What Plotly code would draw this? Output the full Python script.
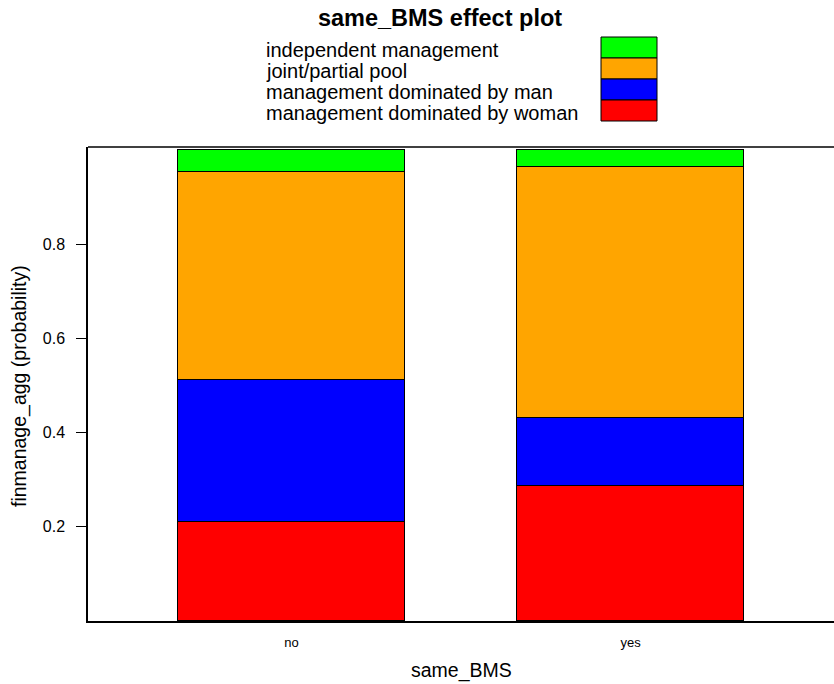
import plotly.graph_objects as go

# Effect-plot probabilities for finmanage_agg by same_BMS
categories = ["no", "yes"]
levels = [
    "management dominated by woman",
    "management dominated by man",
    "joint/partial pool",
    "independent management",
]
colors = ["#FF0000", "#0000FF", "#FFA500", "#00FF00"]
probs = {
    "management dominated by woman": [0.211, 0.287],
    "management dominated by man": [0.300, 0.144],
    "joint/partial pool": [0.442, 0.533],
    "independent management": [0.047, 0.036],
}
y_ticks = [0.2, 0.4, 0.6, 0.8]

fig = go.Figure()
for lvl, col in zip(levels, colors):
    fig.add_trace(go.Bar(
        x=categories, y=probs[lvl], name=lvl,
        marker=dict(color=col, line=dict(color="black", width=1)),
        width=0.67, showlegend=False,
    ))

font = "Liberation Sans, Arial, sans-serif"
W, H = 834, 684
L, T, B = 88, 147, 63
plot_w = W - L
plot_h = H - T - B


def px(x):
    return (x - L) / plot_w


def py(y):
    return (H - B - y) / plot_h


# Key: labels on the left, colour boxes on the right (top entry = last level)
key_top, row_h = 37, 21
for i, (lvl, col) in enumerate(zip(reversed(levels), reversed(colors))):
    top = key_top + i * row_h
    fig.add_shape(type="rect", xref="paper", yref="paper",
                  x0=px(601), x1=px(657), y0=py(top + row_h), y1=py(top),
                  fillcolor=col, line=dict(color="black", width=1))
    fig.add_annotation(text=lvl, xref="paper", yref="paper",
                       x=px(264), y=py(top + row_h / 2 + 2.5),
                       xanchor="left", yanchor="middle", showarrow=False,
                       font=dict(family=font, size=20, color="black"))

# Top frame line of the panel
fig.add_shape(type="line", xref="paper", yref="paper", x0=0, x1=1, y0=1, y1=1,
              line=dict(color="black", width=1.5))

# Axis titles
fig.add_annotation(text="same_BMS", xref="paper", yref="paper",
                   x=0.5, y=py(670), xanchor="center", yanchor="middle",
                   showarrow=False, font=dict(family=font, size=19.5, color="black"))
fig.add_annotation(text="finmanage_agg (probability)", xref="paper", yref="paper",
                   x=px(19), y=py(386), xanchor="center", yanchor="middle",
                   textangle=-90, showarrow=False,
                   font=dict(family=font, size=19.5, color="black"))

fig.update_layout(
    width=W, height=H,
    margin=dict(l=L, r=0, t=T, b=B),
    paper_bgcolor="white", plot_bgcolor="white",
    barmode="stack", bargap=0,
    title=dict(text="<b>same_BMS effect plot</b>", x=440 / W, xanchor="center",
               y=1 - 18 / H, yanchor="middle",
               font=dict(family=font, size=23.5, color="black")),
    font=dict(family=font, color="black"),
    xaxis=dict(
        range=[-0.6, 1.6], showline=True, linecolor="black", linewidth=1.5,
        ticks="", showgrid=False, zeroline=False, ticklabelstandoff=9,
        tickfont=dict(size=13, color="black"),
    ),
    yaxis=dict(
        range=[0, 1.006], showline=True, linecolor="black", linewidth=1.5,
        ticks="outside", ticklen=10, tickwidth=1.2, tickcolor="black",
        tickvals=y_ticks, ticktext=[f"{v:.1f}" for v in y_ticks],
        showgrid=False, zeroline=False, ticklabelstandoff=8,
        tickfont=dict(size=16, color="black"),
    ),
)

fig.write_html("out.html")
